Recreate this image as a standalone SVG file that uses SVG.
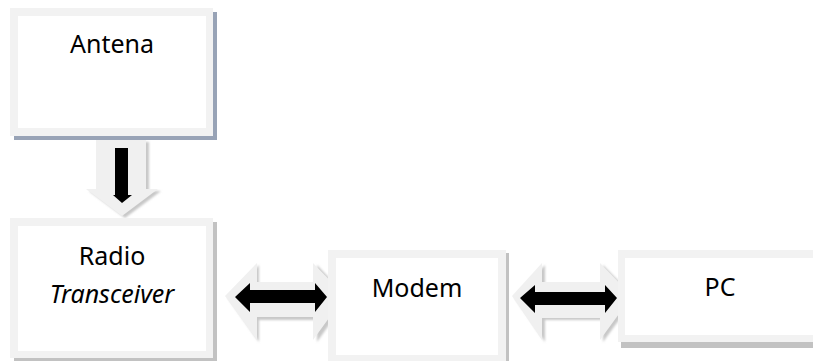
<svg xmlns="http://www.w3.org/2000/svg" width="813" height="361" viewBox="0 0 813 361">
  <defs>
    <style>
      .frame { fill: #f2f2f2; }
      .face { fill: #ffffff; }
      .shade { fill: #c2c2c2; }
      .shade-blue { fill: #98a3b6; }
      .label { font-family: "Noto Sans", "Open Sans", "Liberation Sans", sans-serif; font-size: 25px; fill: #000000; text-anchor: middle; }
      .italic { font-style: italic; }
      .ghost { fill: #f0f0f0; }
      .ghost-edge { fill: #c8c8c8; filter: url(#soft); }
      .solid { fill: #000000; }
    </style>
    <filter id="soft" x="-20%" y="-20%" width="140%" height="140%">
      <feGaussianBlur stdDeviation="1.2"/>
    </filter>
  </defs>

  <rect width="813" height="361" fill="#ffffff"/>

  <!-- connectors: light bevelled arrow bodies with solid black arrows on top -->
  <g id="connectors">
    <!-- Antena -> Radio Transceiver -->
    <g id="arrow-down">
      <path class="ghost-edge" d="M99 142 H149 V191 H161 L125 218 L89 191 H99 Z"/>
      <path class="ghost" d="M96 140 H146 V189 H158 L122 216 L86 189 H96 Z"/>
      <path class="solid" d="M115 148 H128 V195 H132 L122 203 L113 195 H115 Z"/>
    </g>
    <!-- Radio Transceiver <-> Modem -->
    <g id="arrow-radio-modem">
      <path class="ghost-edge" d="M228 298 L259 265 V285 H317 V265 L348 298 L317 342 V320 H259 V342 Z"/>
      <path class="ghost" d="M225 296 L257 263 V282 H313 V263 L345 296 L313 340 V317 H257 V340 Z"/>
      <path class="solid" d="M235 297 L250 283 V290 H315 V283 L327 297 L315 312 V303 H250 V312 Z"/>
    </g>
    <!-- Modem <-> PC -->
    <g id="arrow-modem-pc">
      <path class="ghost-edge" d="M515 298 L545 265 V285 H603 V265 L635 298 L603 342 V320 H545 V342 Z"/>
      <path class="ghost" d="M512 296 L542 263 V282 H600 V263 L632 296 L600 340 V318 H542 V340 Z"/>
      <path class="solid" d="M520 298 L535 285 V292 H605 V285 L617 298 L605 313 V305 H535 V313 Z"/>
    </g>
  </g>

  <g id="node-antena">
    <rect class="shade-blue" x="14" y="12" width="203" height="128"/>
    <rect class="frame" x="10" y="8" width="203" height="128"/>
    <rect class="face" x="18" y="16" width="188" height="112"/>
    <text class="label" x="112" y="53">Antena</text>
  </g>

  <g id="node-radio">
    <rect class="shade" x="14" y="222" width="203" height="139"/>
    <rect class="frame" x="10" y="218" width="203" height="140"/>
    <rect class="face" x="18" y="226" width="188" height="125"/>
    <text class="label" x="112" y="265">Radio</text>
    <text class="label italic" x="112" y="303">Transceiver</text>
  </g>

  <g id="node-modem">
    <rect class="shade" x="331" y="253" width="178" height="112"/>
    <rect class="frame" x="328" y="250" width="178" height="112"/>
    <rect class="face" x="336" y="258" width="162" height="97"/>
    <text class="label" x="417" y="297">Modem</text>
  </g>

  <g id="node-pc">
    <rect class="shade" x="621" y="253" width="200" height="95"/>
    <rect class="frame" x="618" y="250" width="200" height="92"/>
    <rect class="face" x="625" y="258" width="195" height="77"/>
    <text class="label" x="720" y="296">PC</text>
  </g>
</svg>
